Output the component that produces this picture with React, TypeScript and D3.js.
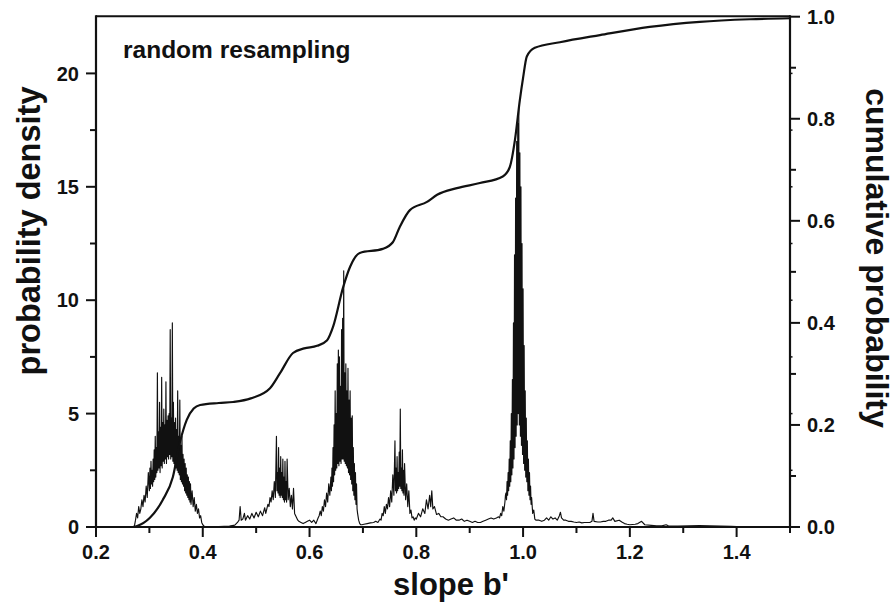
import React from "react";
import * as d3 from "d3";

// ---------- data ----------
const xTicks = [0.2, 0.4, 0.6, 0.8, 1.0, 1.2, 1.4];
const xMinor = [0.3, 0.5, 0.7, 0.9, 1.1, 1.3, 1.5];
const yLeftTicks = [0, 5, 10, 15, 20];
const yLeftMinor = [2.5, 7.5, 12.5, 17.5];
const yRightTicks = [0, 0.2, 0.4, 0.6, 0.8, 1.0];
const yRightMinor = [0.1, 0.3, 0.5, 0.7, 0.9];

const densityLead: [number, number][] = [
  [0.2, 0], [0.25, 0], [0.268, 0],
];
const densityPeak1: [number, number][] = [
  [0.27, 0], [0.272, 0.05], [0.274, 0.3], [0.276, 0.6], [0.278, 0.4], [0.28, 0.9],
  [0.282, 0.6], [0.284, 0.8], [0.286, 1.2], [0.288, 0.9], [0.29, 1.4], [0.292, 1.1],
  [0.294, 1.8], [0.296, 1.3], [0.298, 2.4],
  [0.3, 1.6], [0.301, 2.6], [0.302, 1.7], [0.303, 2.9], [0.304, 1.9], [0.305, 2.5],
  [0.306, 1.8], [0.307, 3.0], [0.308, 2.0], [0.309, 3.4], [0.31, 2.1], [0.311, 4.0],
  [0.312, 2.2], [0.313, 3.5], [0.314, 2.4], [0.315, 6.8], [0.316, 2.5], [0.317, 4.2],
  [0.318, 2.6], [0.319, 5.5], [0.32, 2.4], [0.321, 4.4], [0.322, 2.7], [0.323, 6.6],
  [0.324, 2.6], [0.325, 4.6], [0.326, 2.9], [0.327, 5.2], [0.328, 2.8], [0.329, 4.5],
  [0.33, 3.0], [0.331, 6.4], [0.332, 2.8], [0.333, 4.7], [0.334, 3.1], [0.335, 4.9],
  [0.336, 3.0], [0.337, 5.0], [0.338, 3.2], [0.339, 8.7], [0.34, 3.0], [0.341, 4.8],
  [0.342, 3.1], [0.343, 9.0], [0.344, 2.9], [0.345, 5.5], [0.346, 2.8], [0.347, 4.6],
  [0.348, 2.7], [0.349, 4.8], [0.35, 2.6], [0.351, 4.3], [0.352, 2.5], [0.353, 6.0],
  [0.354, 2.4], [0.355, 4.0], [0.356, 2.3], [0.357, 5.6], [0.358, 2.1], [0.359, 3.6],
  [0.36, 2.0], [0.361, 4.0], [0.362, 1.9], [0.363, 3.2], [0.364, 1.8], [0.365, 3.0],
  [0.366, 1.6], [0.367, 2.8], [0.368, 1.5], [0.369, 2.6], [0.37, 1.4], [0.371, 2.3],
  [0.372, 1.3], [0.373, 2.2], [0.374, 1.2], [0.375, 2.0], [0.376, 1.1], [0.377, 1.9],
  [0.378, 1.0], [0.38, 1.6], [0.382, 0.9], [0.384, 1.3], [0.386, 0.7], [0.388, 1.0],
  [0.39, 0.6], [0.392, 0.8], [0.394, 0.4], [0.396, 0.5], [0.398, 0.2], [0.4, 0.1],
  [0.402, 0.05], [0.404, 0.02],
];
const densityGap1: [number, number][] = [
  [0.41, 0.02], [0.43, 0.02], [0.45, 0.04], [0.46, 0.08], [0.465, 0.2], [0.468, 0.3],
  [0.47, 0.9], [0.472, 0.3], [0.475, 0.35], [0.478, 0.6], [0.48, 0.3], [0.484, 0.5],
  [0.488, 0.35], [0.492, 0.6], [0.496, 0.4], [0.5, 0.65], [0.504, 0.45], [0.508, 0.7],
  [0.512, 0.5], [0.516, 0.85], [0.518, 0.6],
];
const densityPeak2: [number, number][] = [
  [0.52, 0.8], [0.522, 1.0], [0.524, 0.9], [0.526, 1.3], [0.528, 1.1], [0.53, 1.6],
  [0.532, 1.2], [0.534, 2.0], [0.536, 1.3], [0.538, 4.0], [0.539, 1.6], [0.54, 2.4],
  [0.541, 1.5], [0.542, 3.5], [0.543, 1.4], [0.544, 2.6], [0.545, 1.3], [0.546, 3.1],
  [0.547, 1.4], [0.548, 2.4], [0.549, 1.3], [0.55, 3.0], [0.551, 1.2], [0.552, 2.2],
  [0.553, 1.1], [0.554, 2.9], [0.555, 1.2], [0.556, 2.0], [0.557, 1.1], [0.558, 3.0],
  [0.56, 1.2], [0.562, 1.7], [0.564, 0.9], [0.566, 1.4], [0.568, 0.8], [0.57, 1.7],
  [0.572, 0.6], [0.574, 0.5], [0.576, 0.4], [0.578, 0.3],
];
const densityGap2: [number, number][] = [
  [0.58, 0.25], [0.584, 0.2], [0.588, 0.15], [0.592, 0.2], [0.596, 0.25], [0.6, 0.3],
  [0.604, 0.2], [0.608, 0.3], [0.612, 0.15], [0.616, 0.4], [0.618, 0.5],
];
const densityPeak3: [number, number][] = [
  [0.62, 0.7], [0.622, 0.5], [0.624, 0.9], [0.626, 0.7], [0.628, 1.2], [0.63, 0.9],
  [0.632, 1.5], [0.634, 1.1], [0.636, 1.9], [0.638, 1.4],
  [0.64, 2.2], [0.641, 1.6], [0.642, 2.6], [0.643, 1.8], [0.644, 3.5], [0.645, 2.0],
  [0.646, 4.5], [0.647, 2.3], [0.648, 6.0], [0.649, 2.5], [0.65, 5.0], [0.651, 2.6],
  [0.652, 7.2], [0.653, 2.8], [0.654, 7.8], [0.655, 2.7], [0.656, 7.5], [0.657, 2.9],
  [0.658, 6.2], [0.659, 2.8], [0.66, 8.7], [0.661, 3.0], [0.662, 9.2], [0.663, 3.0],
  [0.664, 11.3], [0.665, 2.9], [0.666, 6.8], [0.667, 2.8], [0.668, 7.2], [0.669, 2.7],
  [0.67, 6.0], [0.671, 2.6], [0.672, 7.0], [0.673, 2.4], [0.674, 5.6], [0.675, 2.3],
  [0.676, 6.0], [0.677, 2.1], [0.678, 4.8], [0.679, 1.9], [0.68, 4.9], [0.681, 1.6],
  [0.682, 3.5], [0.683, 1.4], [0.684, 2.8], [0.685, 1.2], [0.686, 2.4], [0.687, 1.0],
  [0.688, 1.9], [0.689, 0.8], [0.69, 0.6], [0.692, 0.3], [0.694, 0.15], [0.696, 0.1],
];
const densityGap3: [number, number][] = [
  [0.698, 0.1], [0.702, 0.12], [0.708, 0.15], [0.714, 0.18], [0.72, 0.2], [0.724, 0.25],
  [0.728, 0.2], [0.732, 0.35],
];
const densityPeak4: [number, number][] = [
  [0.734, 0.3], [0.736, 0.6], [0.738, 0.5], [0.74, 0.9], [0.742, 0.6], [0.744, 1.0],
  [0.746, 0.8], [0.748, 1.3], [0.75, 0.9], [0.752, 1.6], [0.754, 1.1], [0.756, 2.3],
  [0.758, 1.4], [0.76, 3.8], [0.761, 1.6], [0.762, 2.6], [0.763, 1.5], [0.764, 3.1],
  [0.765, 1.6], [0.766, 2.4], [0.767, 1.7], [0.768, 3.3], [0.769, 1.8], [0.77, 5.2],
  [0.771, 1.7], [0.772, 2.6], [0.773, 1.6], [0.774, 3.4], [0.775, 1.5], [0.776, 2.5],
  [0.777, 1.4], [0.778, 2.8], [0.78, 1.2], [0.782, 1.9], [0.784, 0.9], [0.786, 1.6],
  [0.788, 0.6], [0.79, 0.75], [0.792, 0.4], [0.794, 0.45], [0.796, 0.3],
];
const densityGap4: [number, number][] = [
  [0.798, 0.4], [0.8, 0.35], [0.804, 0.6], [0.808, 0.45], [0.812, 0.8], [0.816, 0.6],
  [0.819, 1.2], [0.822, 0.8], [0.825, 1.4], [0.827, 0.9], [0.829, 1.6], [0.831, 0.8],
  [0.834, 0.9], [0.838, 0.55], [0.842, 0.6], [0.846, 0.45], [0.85, 0.45], [0.855, 0.35],
  [0.86, 0.3], [0.865, 0.35], [0.87, 0.4], [0.875, 0.3], [0.88, 0.3], [0.885, 0.35],
  [0.89, 0.25], [0.895, 0.3], [0.9, 0.25], [0.905, 0.2], [0.91, 0.25], [0.915, 0.2],
  [0.92, 0.2], [0.925, 0.25], [0.93, 0.3], [0.935, 0.35], [0.94, 0.4], [0.945, 0.35],
  [0.95, 0.4], [0.954, 0.45],
];
const densityPeak5: [number, number][] = [
  [0.956, 0.4], [0.958, 0.6], [0.96, 0.5], [0.962, 0.9], [0.964, 0.7],
  [0.966, 1.1], [0.967, 1.4], [0.968, 1.5], [0.969, 1.2], [0.97, 2.0], [0.971, 1.4],
  [0.972, 2.4], [0.973, 1.6], [0.974, 3.0], [0.975, 1.8], [0.976, 3.8], [0.977, 2.0],
  [0.978, 5.0], [0.979, 2.3], [0.98, 6.5], [0.981, 2.6], [0.982, 9.0], [0.983, 3.0],
  [0.984, 12.0], [0.985, 3.5], [0.986, 14.5], [0.987, 4.0], [0.988, 17.0], [0.989, 4.5],
  [0.99, 17.8], [0.991, 5.0], [0.992, 18.5], [0.993, 4.5], [0.994, 16.5], [0.995, 4.0],
  [0.996, 15.0], [0.997, 3.6], [0.998, 12.5], [0.999, 3.2], [1.0, 10.5], [1.001, 2.8],
  [1.002, 8.0], [1.003, 2.5], [1.004, 6.0], [1.005, 2.2], [1.006, 4.8], [1.007, 2.0],
  [1.008, 3.8], [1.009, 1.6], [1.01, 3.0], [1.011, 1.4], [1.012, 2.4], [1.013, 1.2],
  [1.014, 1.8], [1.015, 1.0], [1.016, 1.3], [1.018, 0.6], [1.02, 0.75], [1.022, 0.35],
  [1.024, 0.3],
];
const densityTail: [number, number][] = [
  [1.026, 0.3], [1.03, 0.3], [1.035, 0.25], [1.04, 0.3], [1.044, 0.4], [1.048, 0.3],
  [1.052, 0.45], [1.056, 0.35], [1.06, 0.4], [1.064, 0.3], [1.068, 0.5], [1.07, 0.65],
  [1.072, 0.4], [1.076, 0.3], [1.08, 0.3], [1.085, 0.25], [1.09, 0.25], [1.095, 0.22],
  [1.1, 0.2], [1.105, 0.22], [1.11, 0.18], [1.115, 0.2], [1.12, 0.2], [1.125, 0.2],
  [1.129, 0.25], [1.131, 0.6], [1.133, 0.25], [1.14, 0.22], [1.145, 0.22], [1.15, 0.25],
  [1.155, 0.25], [1.16, 0.3], [1.165, 0.3], [1.168, 0.4], [1.172, 0.25], [1.18, 0.3],
  [1.185, 0.22], [1.19, 0.15], [1.195, 0.12], [1.2, 0.1], [1.21, 0.12], [1.215, 0.15],
  [1.222, 0.25], [1.228, 0.1], [1.24, 0.07], [1.25, 0.05], [1.26, 0.05], [1.268, 0.1],
  [1.272, 0.05], [1.29, 0.04], [1.31, 0.05], [1.33, 0.06], [1.35, 0.05], [1.37, 0.04],
  [1.39, 0.03], [1.4, 0.02],
];

const cumulative: [number, number][] = [
  [0.269, 0], [0.277, 0.002], [0.301, 0.018], [0.325, 0.053], [0.344, 0.098],
  [0.357, 0.165], [0.37, 0.21], [0.383, 0.232], [0.395, 0.239], [0.43, 0.243],
  [0.457, 0.245], [0.49, 0.252], [0.526, 0.272], [0.545, 0.302], [0.569, 0.341],
  [0.59, 0.35], [0.614, 0.355], [0.633, 0.366], [0.644, 0.392], [0.663, 0.47],
  [0.676, 0.51], [0.694, 0.537], [0.737, 0.545], [0.756, 0.558], [0.769, 0.588],
  [0.788, 0.621], [0.82, 0.637], [0.839, 0.651], [0.876, 0.664], [0.919, 0.674],
  [0.962, 0.687], [0.975, 0.705], [0.985, 0.76], [0.994, 0.837], [1.0, 0.88],
  [1.007, 0.922], [1.022, 0.939], [1.069, 0.95], [1.144, 0.964], [1.237, 0.98],
  [1.331, 0.99], [1.425, 0.995], [1.5, 0.997],
];

const density: [number, number][] = [
  ...densityLead, ...densityPeak1, ...densityGap1, ...densityPeak2, ...densityGap2,
  ...densityPeak3, ...densityGap3, ...densityPeak4, ...densityGap4, ...densityPeak5,
  ...densityTail,
];

// ---------- layout ----------
const W = 896;
const H = 603;
const X0 = 96;
const X1 = 790;
const YB = 527;
const YT = 16.7;
const FONT = "'Liberation Sans', Arial, Helvetica, sans-serif";

export default function App() {
  const x = d3.scaleLinear().domain([0.2, 1.5]).range([X0, X1]);
  const yL = d3.scaleLinear().domain([0, 22.5]).range([YB, YT]);
  const yR = d3.scaleLinear().domain([0, 1]).range([YB, YT]);

  const densityPath = d3
    .line<[number, number]>()
    .x((d) => x(d[0]))
    .y((d) => yL(d[1]))(density) as string;

  const cumPath = d3
    .line<[number, number]>()
    .x((d) => x(d[0]))
    .y((d) => yR(d[1]))
    .curve(d3.curveMonotoneX)(cumulative) as string;

  const axisColor = "#111";

  return (
    <svg
      width={W}
      height={H}
      viewBox={`0 0 ${W} ${H}`}
      style={{ position: "absolute", left: 0, top: 0, background: "#fff" }}
      fontFamily={FONT}
    >
      <rect x={0} y={0} width={W} height={H} fill="#fff" />
      {/* data */}
      <path d={densityPath} fill="none" stroke="#111" strokeWidth={1.15} strokeLinejoin="round" />
      <path d={cumPath} fill="none" stroke="#111" strokeWidth={2.2} strokeLinejoin="round" />

      {/* frame */}
      <line x1={X0} x2={X1} y1={YT - 0.5} y2={YT - 0.5} stroke={axisColor} strokeWidth={2} />
      <line x1={X0} x2={X1 + 1} y1={YB} y2={YB} stroke={axisColor} strokeWidth={2.2} />
      <line x1={X0} x2={X0} y1={YT - 1.5} y2={YB + 1} stroke={axisColor} strokeWidth={2.2} />
      <line x1={X1} x2={X1} y1={YT - 1.5} y2={YB + 1} stroke={axisColor} strokeWidth={2.2} />

      {/* bottom axis */}
      {xTicks.map((t) => (
        <g key={`xt${t}`}>
          <line x1={x(t)} x2={x(t)} y1={YB} y2={YB + 10} stroke={axisColor} strokeWidth={2} />
          <text x={x(t)} y={559} textAnchor="middle" fontSize={20} fontWeight="bold" fill="#111">
            {t.toFixed(1)}
          </text>
        </g>
      ))}
      {xMinor.map((t) => (
        <line key={`xm${t}`} x1={x(t)} x2={x(t)} y1={YB} y2={YB + 6} stroke={axisColor} strokeWidth={2} />
      ))}

      {/* left axis */}
      {yLeftTicks.map((t) => (
        <g key={`yl${t}`}>
          <line x1={X0 - 10} x2={X0} y1={yL(t)} y2={yL(t)} stroke={axisColor} strokeWidth={2} />
          <line x1={X1} x2={X1 + 2.5} y1={yL(t)} y2={yL(t)} stroke={axisColor} strokeWidth={1.5} />
          <text x={79} y={yL(t)} dy="0.36em" textAnchor="end" fontSize={20} fontWeight="bold" fill="#111">
            {t}
          </text>
        </g>
      ))}
      {yLeftMinor.map((t) => (
        <g key={`ylm${t}`}>
          <line x1={X0 - 6} x2={X0} y1={yL(t)} y2={yL(t)} stroke={axisColor} strokeWidth={2} />
          <line x1={X1} x2={X1 + 2.5} y1={yL(t)} y2={yL(t)} stroke={axisColor} strokeWidth={1.5} />
        </g>
      ))}

      {/* right axis */}
      {yRightTicks.map((t) => (
        <g key={`yr${t}`}>
          <line x1={X1} x2={X1 + 10} y1={yR(t)} y2={yR(t)} stroke={axisColor} strokeWidth={2} />
          <text x={807} y={yR(t)} dy="0.36em" textAnchor="start" fontSize={20} fontWeight="bold" fill="#111">
            {t.toFixed(1)}
          </text>
        </g>
      ))}
      {yRightMinor.map((t) => (
        <line key={`yrm${t}`} x1={X1} x2={X1 + 6} y1={yR(t)} y2={yR(t)} stroke={axisColor} strokeWidth={2} />
      ))}

      {/* titles */}
      <text x={(X0 + X1) / 2 + 8} y={595} textAnchor="middle" fontSize={31} fontWeight="bold" fill="#111">
        slope b'
      </text>
      <text
        transform={`translate(40, 231) rotate(-90)`}
        textAnchor="middle"
        fontSize={32.5}
        fontWeight="bold"
        fill="#111"
      >
        probability density
      </text>
      <text
        transform={`translate(866, 258) rotate(90)`}
        textAnchor="middle"
        fontSize={32}
        fontWeight="bold"
        fill="#111"
      >
        cumulative probability
      </text>
      <text x={123} y={58} fontSize={24.5} fontWeight="bold" fill="#111">
        random resampling
      </text>
    </svg>
  );
}
